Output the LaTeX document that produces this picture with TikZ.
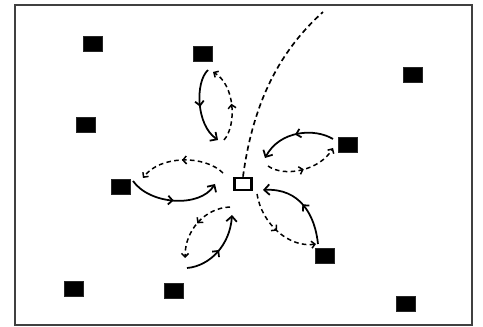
\documentclass[tikz,border=0pt]{standalone}
\usetikzlibrary{arrows.meta,decorations.markings}
\begin{document}
\begin{tikzpicture}[x=0.02cm,y=-0.02cm,
  box/.style={fill=black,draw=black!85,line width=0.5pt,minimum width=0.38cm,minimum height=0.29cm,inner sep=0pt},
  hub/.style={draw=black,fill=white,line width=1.5pt,minimum width=0.34cm,minimum height=0.24cm,inner sep=0pt},
  solidloop/.style={line width=1pt,-{Straight Barb[length=3pt,width=6pt]},
    postaction={decorate},
    decoration={markings,mark=at position 0.5 with {\arrow{Straight Barb[length=2.5pt,width=5pt]}}}},
  dashloop/.style={line width=0.85pt,dash pattern=on 2.6pt off 1.9pt,-{Straight Barb[length=2pt,width=4pt]},
    postaction={decorate},
    decoration={markings,mark=at position 0.5 with {\arrow{Straight Barb[length=2pt,width=4.5pt]}}}},
  trail/.style={line width=0.95pt,dash pattern=on 3pt off 2pt}
]
\useasboundingbox (0,0) rectangle (483,327);
\fill[white] (0,0) rectangle (483,327);
\draw[black!75,line width=0.8pt] (15,5) rectangle (472,325);

% boxes
\node[box] (b1) at (93,44) {};
\node[box] (b2) at (203,54) {};
\node[box] (b3) at (413,75) {};
\node[box] (b4) at (86,125) {};
\node[box] (b5) at (348,145) {};
\node[box] (b6) at (121,187) {};
\node[box] (b7) at (325,256) {};
\node[box] (b8) at (74,289) {};
\node[box] (b9) at (174,291) {};
\node[box] (b10) at (406,304) {};
\node[hub] (c) at (243,184) {};

% loop end points
\coordinate (a1) at (208,70);  \coordinate (a2) at (218,140);
\coordinate (a3) at (224,140); \coordinate (a4) at (213,72);
\coordinate (bb1) at (333,139); \coordinate (bb2) at (265,158);
\coordinate (bb3) at (268,166); \coordinate (bb4) at (333,148);
\coordinate (cc1) at (318,244); \coordinate (cc2) at (263,190);
\coordinate (cc3) at (257,194); \coordinate (cc4) at (316,244);
\coordinate (dd1) at (133,181); \coordinate (dd2) at (215,184);
\coordinate (dd3) at (223,173); \coordinate (dd4) at (143,178);
\coordinate (ee1) at (187,268); \coordinate (ee2) at (232,215);
\coordinate (ee3) at (230,207); \coordinate (ee4) at (185,258);
\coordinate (top) at (323,12);

% trail
\draw[trail] (c.north) .. controls (252,110) and (275,55) .. (top);

% loop A
\draw[solidloop] (a1) .. controls (195,82) and (196,125) .. (a2);
\draw[dashloop] (a3) .. controls (237,125) and (235,85) .. (a4);
% loop B
\draw[solidloop] (bb1) .. controls (315,128) and (280,130) .. (bb2);
\draw[dashloop] (bb3) .. controls (285,178) and (320,170) .. (bb4);
% loop C
\draw[solidloop] (cc1) .. controls (315,215) and (300,188) .. (cc2);
\draw[dashloop] (cc3) .. controls (262,225) and (290,248) .. (cc4);
% loop D
\draw[solidloop] (dd1) .. controls (150,205) and (200,208) .. (dd2);
\draw[dashloop] (dd3) .. controls (205,155) and (160,155) .. (dd4);
% loop E
\draw[solidloop] (ee1) .. controls (210,266) and (230,245) .. (ee2);
\draw[dashloop] (ee3) .. controls (205,208) and (185,230) .. (ee4);
\end{tikzpicture}
\end{document}
